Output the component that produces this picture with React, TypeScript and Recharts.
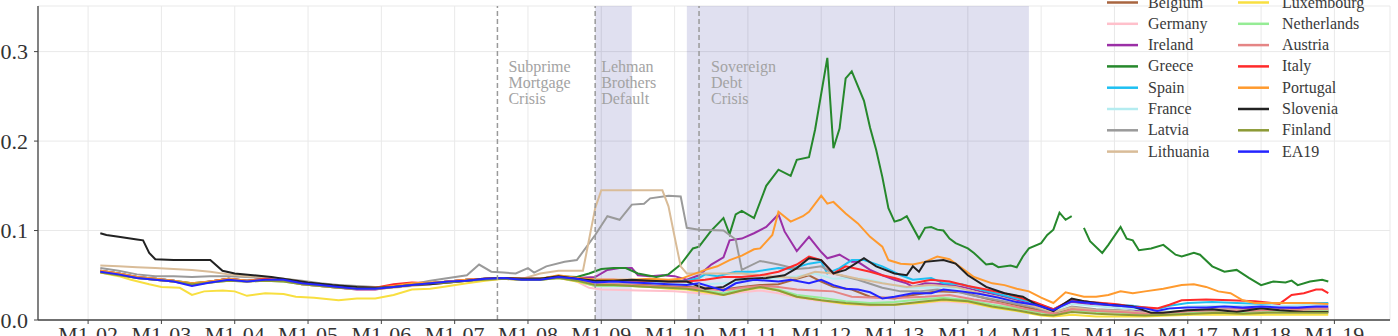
import React from 'react';
import { LineChart, Line, XAxis, YAxis, CartesianGrid, ReferenceArea, ReferenceLine } from 'recharts';

// month index 0 = January 2002
type Pt = [number, number | null];

const yearLabels = ['M1-02', 'M1-03', 'M1-04', 'M1-05', 'M1-06', 'M1-07', 'M1-08', 'M1-09', 'M1-10',
  'M1-11', 'M1-12', 'M1-13', 'M1-14', 'M1-15', 'M1-16', 'M1-17', 'M1-18', 'M1-19'];
const yearTicks = [0, 12, 24, 36, 48, 60, 72, 84, 96, 108, 120, 132, 144, 156, 168, 180, 192, 204];
const valueTicks = [0, 0.1, 0.2, 0.3];

const crisisBands: [number, number][] = [[83, 89], [98, 154]];
const crisisEvents = [
  { month: 67, lines: ['Subprime', 'Mortgage', 'Crisis'], dx: 11 },
  { month: 83, lines: ['Lehman', 'Brothers', 'Default'], dx: 6 },
  { month: 100, lines: ['Sovereign', 'Debt', 'Crisis'], dx: 12 },
];

const belgium: Pt[] = [[2,0.054],[5,0.051],[8,0.047],[11,0.045],[14,0.043],[17,0.040],[20,0.042],[23,0.045],[26,0.043],[29,0.045],[32,0.044],[35,0.040],[38,0.038],[41,0.036],[44,0.035],[47,0.035],[50,0.038],[53,0.040],[56,0.041],[59,0.043],[62,0.044],[65,0.046],[68,0.047],[71,0.045],[74,0.046],[77,0.048],[80,0.045],[83,0.040],[86,0.040],[89,0.040],[92,0.039],[95,0.038],[98,0.037],[101,0.036],[104,0.034],[107,0.037],[110,0.039],[113,0.040],[116,0.046],[118,0.050],[120,0.043],[122,0.037],[125,0.034],[128,0.026],[132,0.024],[135,0.028],[139,0.032],[143,0.031],[147,0.024],[151,0.018],[155,0.012],[158,0.007],[161,0.013],[165,0.011],[169,0.009],[173,0.007],[177,0.008],[181,0.010],[185,0.011],[189,0.010],[193,0.011],[197,0.011],[201,0.011],[203,0.011]];
const germany: Pt[] = [[2,0.053],[5,0.050],[8,0.047],[11,0.045],[14,0.043],[17,0.040],[20,0.042],[23,0.044],[26,0.043],[29,0.044],[32,0.043],[35,0.040],[38,0.038],[41,0.036],[44,0.034],[47,0.034],[50,0.037],[53,0.039],[56,0.040],[59,0.042],[62,0.044],[65,0.045],[68,0.046],[71,0.045],[74,0.045],[77,0.047],[80,0.043],[82,0.036],[84,0.034],[90,0.033],[96,0.032],[100,0.030],[104,0.028],[107,0.031],[110,0.033],[113,0.030],[116,0.025],[120,0.021],[124,0.018],[128,0.016],[132,0.017],[136,0.019],[140,0.021],[144,0.019],[148,0.015],[152,0.011],[156,0.007],[158,0.005],[161,0.010],[165,0.008],[169,0.007],[173,0.005],[177,0.006],[181,0.008],[185,0.009],[189,0.008],[193,0.009],[197,0.009],[201,0.009],[203,0.009]];
const ireland: Pt[] = [[2,0.055],[5,0.052],[8,0.048],[11,0.046],[14,0.044],[17,0.039],[20,0.043],[23,0.046],[26,0.044],[29,0.046],[32,0.045],[35,0.041],[38,0.039],[41,0.036],[44,0.034],[47,0.034],[50,0.037],[53,0.040],[56,0.041],[59,0.043],[62,0.045],[65,0.046],[68,0.047],[71,0.046],[74,0.046],[77,0.049],[80,0.047],[83,0.048],[85,0.056],[87,0.058],[89,0.058],[90,0.050],[92,0.049],[94,0.050],[96,0.049],[98,0.045],[100,0.050],[102,0.062],[104,0.070],[105,0.089],[107,0.091],[109,0.097],[111,0.104],[113,0.118],[114,0.099],[116,0.077],[118,0.093],[120,0.076],[121,0.069],[123,0.073],[125,0.065],[126,0.065],[128,0.056],[130,0.050],[132,0.045],[134,0.041],[135,0.037],[137,0.041],[140,0.040],[143,0.037],[146,0.032],[149,0.028],[152,0.022],[155,0.017],[158,0.010],[161,0.020],[164,0.017],[167,0.015],[170,0.013],[174,0.008],[176,0.007],[180,0.011],[184,0.012],[188,0.012],[192,0.013],[196,0.012],[200,0.013],[203,0.013]];
const greece: Pt[] = [[2,0.055],[5,0.052],[8,0.048],[11,0.046],[14,0.044],[17,0.041],[20,0.043],[23,0.046],[26,0.044],[29,0.046],[32,0.044],[35,0.041],[38,0.039],[41,0.037],[44,0.036],[47,0.036],[50,0.038],[53,0.040],[56,0.041],[59,0.043],[62,0.045],[65,0.046],[68,0.047],[71,0.046],[74,0.046],[77,0.049],[80,0.048],[82,0.052],[84,0.057],[86,0.058],[88,0.058],[90,0.052],[93,0.048],[95,0.051],[97,0.062],[99,0.080],[100,0.082],[102,0.100],[104,0.114],[105,0.096],[106,0.118],[107,0.122],[109,0.114],[111,0.150],[113,0.168],[115,0.161],[116,0.179],[118,0.182],[119,0.213],[121,0.293],[122,0.192],[123,0.214],[124,0.270],[125,0.278],[127,0.245],[128,0.215],[129,0.190],[130,0.160],[131,0.125],[132,0.110],[133,0.112],[134,0.116],[136,0.091],[137,0.103],[138,0.104],[139,0.101],[140,0.100],[141,0.091],[142,0.086],[144,0.080],[145,0.075],[147,0.062],[148,0.063],[149,0.059],[151,0.061],[152,0.059],[153,0.071],[154,0.080],[156,0.086],[157,0.095],[158,0.101],[159,0.120],[160,0.112],[161,0.116],[162,null],[163,0.103],[164,0.088],[166,0.075],[167,0.084],[169,0.104],[170,0.091],[171,0.089],[172,0.078],[174,0.080],[176,0.084],[178,0.073],[179,0.071],[181,0.075],[182,0.073],[184,0.060],[186,0.054],[188,0.056],[190,0.047],[192,0.039],[194,0.043],[196,0.042],[197,0.044],[198,0.039],[200,0.043],[202,0.045],[203,0.043]];
const spain: Pt[] = [[2,0.054],[5,0.051],[8,0.048],[11,0.046],[14,0.044],[17,0.040],[20,0.043],[23,0.045],[26,0.044],[29,0.045],[32,0.044],[35,0.041],[38,0.039],[41,0.037],[44,0.035],[47,0.035],[50,0.038],[53,0.040],[56,0.041],[59,0.043],[62,0.045],[65,0.046],[68,0.047],[71,0.046],[74,0.046],[77,0.048],[80,0.046],[83,0.043],[86,0.044],[89,0.044],[92,0.043],[95,0.043],[98,0.044],[100,0.047],[101,0.051],[103,0.049],[106,0.054],[109,0.054],[113,0.058],[115,0.057],[118,0.063],[120,0.065],[121,0.052],[123,0.058],[125,0.067],[127,0.067],[130,0.060],[133,0.050],[135,0.045],[138,0.047],[140,0.041],[143,0.040],[146,0.034],[149,0.029],[152,0.024],[155,0.019],[158,0.012],[161,0.022],[164,0.020],[167,0.018],[171,0.016],[175,0.012],[177,0.016],[180,0.019],[184,0.020],[188,0.019],[192,0.018],[196,0.019],[200,0.019],[203,0.019]];
const france: Pt[] = [[2,0.055],[5,0.052],[8,0.048],[11,0.046],[14,0.044],[17,0.040],[20,0.043],[23,0.045],[26,0.044],[29,0.045],[32,0.044],[35,0.041],[38,0.039],[41,0.037],[44,0.035],[47,0.035],[50,0.038],[53,0.040],[56,0.041],[59,0.043],[62,0.045],[65,0.046],[68,0.047],[71,0.046],[74,0.046],[77,0.048],[80,0.046],[83,0.042],[86,0.042],[89,0.042],[92,0.041],[95,0.040],[98,0.040],[101,0.040],[104,0.041],[107,0.043],[110,0.045],[113,0.047],[116,0.049],[119,0.052],[122,0.046],[125,0.047],[128,0.045],[131,0.040],[134,0.036],[137,0.036],[140,0.037],[143,0.035],[146,0.030],[149,0.025],[152,0.020],[155,0.016],[158,0.010],[161,0.018],[164,0.016],[168,0.014],[172,0.012],[176,0.011],[180,0.015],[184,0.016],[188,0.016],[192,0.016],[196,0.016],[200,0.017],[203,0.017]];
const latvia: Pt[] = [[2,0.058],[5,0.055],[8,0.051],[11,0.049],[14,0.049],[17,0.048],[20,0.049],[23,0.049],[26,0.048],[29,0.047],[32,0.046],[35,0.044],[38,0.041],[41,0.039],[44,0.038],[47,0.037],[50,0.037],[53,0.040],[56,0.044],[59,0.047],[62,0.050],[64,0.062],[66,0.054],[68,0.053],[70,0.052],[72,0.058],[73,0.053],[75,0.060],[78,0.065],[80,0.067],[83,0.095],[85,0.116],[87,0.112],[89,0.129],[91,0.130],[92,0.136],[95,0.139],[97,0.138],[98,0.103],[100,0.101],[104,0.100],[106,0.090],[107,0.056],[110,0.066],[113,0.062],[116,0.057],[118,0.058],[120,0.060],[122,0.052],[126,0.045],[130,0.036],[133,0.032],[136,0.032],[139,0.034],[142,0.032],[145,0.027],[149,0.022],[152,0.018],[155,0.014],[158,0.008],[161,0.015],[165,0.012],[169,0.011],[173,0.008],[177,0.007],[181,0.009],[185,0.010],[189,0.009],[193,0.010],[197,0.010],[201,0.010],[203,0.010]];
const lithuania: Pt[] = [[2,0.061],[5,0.060],[8,0.059],[11,0.058],[14,0.057],[17,0.056],[20,0.054],[23,0.051],[26,0.049],[29,0.048],[32,0.046],[35,0.043],[38,0.040],[41,0.038],[44,0.036],[47,0.035],[50,0.036],[53,0.038],[56,0.040],[59,0.042],[62,0.044],[65,0.046],[68,0.047],[71,0.046],[74,0.052],[77,0.055],[81,0.055],[82,0.090],[83,0.125],[84,0.145],[88,0.145],[94,0.145],[95,0.127],[96,0.093],[97,0.060],[98,0.052],[104,0.052],[107,0.052],[110,0.050],[113,0.048],[116,0.047],[119,0.054],[122,0.052],[126,0.046],[130,0.041],[134,0.037],[138,0.039],[142,0.037],[146,0.030],[150,0.024],[154,0.017],[158,0.009],[161,0.014],[165,0.011],[169,0.010],[173,0.008],[177,0.009],[181,0.011],[185,0.012],[189,0.011],[193,0.012],[197,0.011],[201,0.012],[203,0.012]];
const luxembourg: Pt[] = [[2,0.053],[5,0.049],[7,0.045],[10,0.040],[12,0.037],[15,0.036],[17,0.028],[19,0.032],[22,0.033],[24,0.032],[26,0.027],[29,0.030],[32,0.029],[34,0.026],[37,0.025],[41,0.022],[44,0.024],[47,0.024],[50,0.028],[53,0.034],[56,0.035],[58,0.037],[62,0.041],[65,0.044],[68,0.046],[71,0.045],[74,0.045],[77,0.047],[80,0.043],[83,0.038],[86,0.038],[89,0.038],[92,0.037],[95,0.035],[98,0.034],[101,0.031],[104,0.028],[107,0.033],[110,0.036],[113,0.033],[116,0.026],[120,0.022],[124,0.018],[128,0.017],[132,0.017],[136,0.019],[140,0.022],[144,0.020],[148,0.014],[152,0.010],[156,0.005],[158,0.004],[161,0.006],[165,0.004],[169,0.004],[173,0.004],[177,0.005],[181,0.006],[185,0.006],[189,0.006],[193,0.006],[197,0.006],[201,0.006],[203,0.006]];
const netherlands: Pt[] = [[2,0.054],[5,0.051],[8,0.047],[11,0.045],[14,0.043],[17,0.040],[20,0.042],[23,0.044],[26,0.043],[29,0.044],[32,0.043],[35,0.040],[38,0.038],[41,0.036],[44,0.035],[47,0.035],[50,0.038],[53,0.040],[56,0.041],[59,0.043],[62,0.044],[65,0.046],[68,0.047],[71,0.045],[74,0.045],[77,0.047],[80,0.044],[83,0.038],[86,0.038],[89,0.038],[92,0.037],[95,0.036],[98,0.035],[101,0.033],[104,0.030],[107,0.034],[110,0.037],[113,0.034],[116,0.028],[120,0.025],[124,0.021],[128,0.019],[132,0.020],[136,0.023],[140,0.025],[144,0.022],[148,0.017],[152,0.013],[156,0.008],[158,0.006],[161,0.011],[165,0.009],[169,0.008],[173,0.006],[177,0.007],[181,0.009],[185,0.010],[189,0.009],[193,0.010],[197,0.010],[201,0.010],[203,0.010]];
const austria: Pt[] = [[2,0.054],[5,0.051],[8,0.048],[11,0.045],[14,0.043],[17,0.040],[20,0.043],[23,0.045],[26,0.043],[29,0.045],[32,0.044],[35,0.040],[38,0.038],[41,0.036],[44,0.035],[47,0.035],[50,0.038],[53,0.040],[56,0.041],[59,0.043],[62,0.045],[65,0.046],[68,0.047],[71,0.046],[74,0.046],[77,0.048],[80,0.045],[83,0.040],[86,0.040],[89,0.039],[92,0.038],[95,0.037],[98,0.036],[101,0.035],[104,0.033],[107,0.036],[110,0.038],[113,0.037],[116,0.034],[119,0.033],[122,0.032],[125,0.026],[129,0.025],[133,0.025],[137,0.026],[141,0.028],[145,0.023],[149,0.019],[153,0.013],[157,0.008],[159,0.007],[161,0.012],[165,0.010],[169,0.009],[173,0.007],[177,0.008],[181,0.010],[185,0.011],[189,0.010],[193,0.011],[197,0.011],[201,0.012],[203,0.012]];
const italy: Pt[] = [[2,0.055],[5,0.052],[8,0.048],[11,0.046],[14,0.044],[17,0.040],[20,0.043],[23,0.046],[26,0.044],[29,0.046],[32,0.044],[35,0.041],[38,0.039],[41,0.037],[44,0.036],[47,0.036],[50,0.040],[53,0.042],[56,0.041],[59,0.043],[62,0.045],[65,0.046],[68,0.047],[71,0.046],[74,0.046],[77,0.049],[80,0.047],[83,0.045],[86,0.045],[89,0.044],[92,0.044],[95,0.043],[98,0.043],[101,0.045],[104,0.048],[107,0.048],[110,0.050],[113,0.054],[116,0.062],[118,0.071],[120,0.067],[122,0.052],[124,0.060],[126,0.057],[128,0.054],[130,0.050],[132,0.047],[135,0.041],[138,0.045],[141,0.043],[144,0.038],[147,0.034],[150,0.030],[153,0.024],[155,0.020],[158,0.012],[161,0.023],[164,0.020],[168,0.018],[171,0.015],[175,0.013],[177,0.017],[179,0.022],[183,0.023],[187,0.022],[191,0.021],[195,0.018],[197,0.028],[199,0.030],[201,0.034],[202,0.034],[203,0.030]];
const portugal: Pt[] = [[2,0.055],[5,0.052],[8,0.048],[11,0.046],[14,0.044],[17,0.041],[20,0.043],[23,0.046],[26,0.044],[29,0.045],[32,0.044],[35,0.041],[38,0.039],[41,0.037],[44,0.036],[47,0.036],[50,0.038],[53,0.041],[56,0.042],[59,0.043],[62,0.045],[65,0.046],[68,0.047],[71,0.046],[74,0.046],[77,0.050],[80,0.047],[83,0.045],[86,0.045],[89,0.045],[92,0.046],[95,0.045],[97,0.046],[99,0.051],[101,0.056],[103,0.060],[105,0.067],[107,0.072],[109,0.079],[110,0.080],[112,0.095],[113,0.121],[115,0.110],[117,0.116],[118,0.121],[120,0.139],[121,0.130],[122,0.132],[124,0.119],[126,0.108],[128,0.093],[130,0.082],[131,0.067],[133,0.063],[135,0.062],[137,0.065],[139,0.071],[141,0.068],[143,0.058],[145,0.048],[148,0.041],[150,0.039],[152,0.035],[154,0.032],[156,0.025],[158,0.019],[160,0.031],[163,0.026],[165,0.026],[167,0.028],[169,0.032],[171,0.030],[173,0.032],[176,0.035],[179,0.039],[181,0.040],[183,0.037],[185,0.032],[187,0.030],[189,0.022],[191,0.019],[194,0.019],[197,0.019],[200,0.019],[203,0.018]];
const slovenia: Pt[] = [[2,0.097],[3,0.095],[5,0.093],[8,0.090],[9,0.089],[10,0.075],[11,0.068],[14,0.067],[17,0.067],[20,0.067],[22,0.055],[24,0.052],[27,0.050],[30,0.048],[33,0.045],[36,0.042],[40,0.039],[44,0.037],[47,0.036],[50,0.037],[53,0.039],[56,0.040],[59,0.042],[62,0.044],[65,0.046],[68,0.047],[71,0.046],[74,0.046],[77,0.049],[80,0.046],[83,0.044],[86,0.044],[89,0.045],[92,0.044],[95,0.043],[98,0.043],[101,0.035],[104,0.037],[106,0.045],[108,0.046],[111,0.047],[114,0.050],[116,0.058],[118,0.069],[120,0.067],[122,0.052],[124,0.056],[127,0.069],[129,0.060],[132,0.052],[134,0.050],[135,0.060],[136,0.054],[137,0.065],[140,0.067],[142,0.063],[144,0.050],[147,0.037],[150,0.030],[153,0.026],[155,0.018],[158,0.010],[161,0.024],[163,0.021],[167,0.017],[171,0.015],[174,0.008],[176,0.008],[180,0.011],[184,0.012],[188,0.009],[192,0.013],[195,0.011],[199,0.009],[203,0.009]];
const finland: Pt[] = [[2,0.053],[5,0.050],[8,0.047],[11,0.045],[14,0.043],[17,0.040],[20,0.042],[23,0.044],[26,0.043],[29,0.044],[32,0.043],[35,0.040],[38,0.038],[41,0.036],[44,0.035],[47,0.035],[50,0.037],[53,0.039],[56,0.041],[59,0.042],[62,0.044],[65,0.045],[68,0.046],[71,0.045],[74,0.045],[77,0.047],[80,0.044],[83,0.039],[86,0.039],[89,0.038],[92,0.037],[95,0.036],[98,0.035],[101,0.032],[104,0.028],[107,0.033],[110,0.037],[113,0.033],[116,0.026],[120,0.022],[124,0.019],[128,0.017],[132,0.017],[136,0.020],[140,0.023],[144,0.021],[148,0.015],[152,0.011],[156,0.006],[158,0.005],[161,0.009],[165,0.007],[169,0.006],[173,0.005],[177,0.006],[181,0.007],[185,0.008],[189,0.007],[193,0.008],[197,0.008],[201,0.008],[203,0.008]];
const ea19: Pt[] = [[2,0.054],[5,0.051],[8,0.047],[11,0.045],[14,0.043],[17,0.038],[20,0.042],[23,0.045],[26,0.043],[29,0.045],[32,0.045],[35,0.041],[38,0.039],[41,0.037],[44,0.035],[47,0.035],[50,0.037],[53,0.039],[56,0.041],[59,0.043],[62,0.044],[65,0.046],[68,0.047],[71,0.045],[74,0.045],[77,0.048],[80,0.046],[83,0.042],[86,0.043],[89,0.042],[92,0.041],[95,0.040],[98,0.039],[100,0.041],[102,0.037],[104,0.033],[106,0.041],[109,0.045],[113,0.043],[115,0.045],[118,0.041],[120,0.045],[122,0.039],[124,0.035],[126,0.034],[128,0.031],[130,0.024],[132,0.026],[135,0.030],[138,0.030],[140,0.034],[143,0.032],[146,0.029],[149,0.025],[152,0.020],[155,0.017],[158,0.011],[161,0.021],[164,0.019],[167,0.017],[170,0.015],[173,0.013],[175,0.010],[177,0.013],[180,0.014],[183,0.014],[186,0.015],[189,0.014],[192,0.015],[195,0.014],[198,0.014],[201,0.015],[203,0.015]];

const series = [
  { name: 'Belgium', color: '#a8653f', points: belgium },
  { name: 'Germany', color: '#ffc0cb', points: germany },
  { name: 'Ireland', color: '#9b2fa6', points: ireland },
  { name: 'Greece', color: '#26882c', points: greece },
  { name: 'Spain', color: '#1ec0f2', points: spain },
  { name: 'France', color: '#b4ecf0', points: france },
  { name: 'Latvia', color: '#9a9a9a', points: latvia },
  { name: 'Lithuania', color: '#d9bc98', points: lithuania },
  { name: 'Luxembourg', color: '#f8df40', points: luxembourg },
  { name: 'Netherlands', color: '#95ec95', points: netherlands },
  { name: 'Austria', color: '#e58585', points: austria },
  { name: 'Italy', color: '#ff2a2a', points: italy },
  { name: 'Portugal', color: '#ff9a2e', points: portugal },
  { name: 'Slovenia', color: '#222222', points: slovenia },
  { name: 'Finland', color: '#8c9a36', points: finland },
  { name: 'EA19', color: '#2424ff', points: ea19 },
];

const SERIF = '"Liberation Serif", "DejaVu Serif", serif';
const W = 1398;
const H = 336;

const CrisisText = ({ viewBox, lines, dx }: any) => {
  if (!viewBox) return null;
  const baselines = [72, 88, 104];
  return (
    <g>
      {lines.map((t: string, i: number) => (
        <text key={t + i} x={viewBox.x + dx} y={baselines[i]} fill="#a3a3a3"
          fontFamily={SERIF} fontSize={16}>{t}</text>
      ))}
    </g>
  );
};

// legend drawn as an overlay, two columns filled top to bottom
const LegendOverlay = () => (
  <svg width={W} height={H} style={{ position: 'absolute', left: 0, top: 0, pointerEvents: 'none' }}>
    {series.map((s, i) => {
      const col = i < 8 ? 0 : 1;
      const row = i % 8;
      const y = 2.5 + row * 21.3;
      const x0 = col === 0 ? 1107 : 1238;
      const tx = col === 0 ? 1148 : 1282;
      return (
        <g key={s.name}>
          <line x1={x0} x2={x0 + 31} y1={y} y2={y} stroke={s.color} strokeWidth={2.5} />
          <text x={tx} y={y + 5} fontFamily={SERIF} fontSize={16} fill="#3a3a3a">{s.name}</text>
        </g>
      );
    })}
  </svg>
);

export default function App() {
  return (
    <div style={{ position: 'absolute', left: 0, top: 0, width: W, height: H, background: '#fff' }}>
      <LineChart width={W} height={H} margin={{ top: 6, right: 8, bottom: 0, left: 0 }}>
        <CartesianGrid stroke="#e9e9e9" strokeWidth={1} />
        <XAxis dataKey="m" type="number" domain={[-8.2, 213.1]} allowDataOverflow
          ticks={yearTicks} interval={0} height={16}
          tickFormatter={(m: number) => yearLabels[yearTicks.indexOf(m)] ?? ''}
          tick={{ fontFamily: SERIF, fontSize: 22, fill: '#333' }}
          tickSize={4} tickMargin={2}
          axisLine={{ stroke: '#444', strokeWidth: 1.3 }} tickLine={{ stroke: '#444' }} />
        <YAxis type="number" domain={[0, 0.351]} allowDataOverflow ticks={valueTicks} width={38}
          tickFormatter={(v: number) => v.toFixed(1)}
          tick={{ fontFamily: SERIF, fontSize: 22, fill: '#333' }}
          tickSize={4} tickMargin={6}
          axisLine={{ stroke: '#444', strokeWidth: 1.3 }} tickLine={{ stroke: '#444' }} />
        <YAxis yAxisId="frame" orientation="right" width={0} tick={false} tickLine={false}
          domain={[0, 1]} axisLine={{ stroke: '#555', strokeWidth: 1.3 }} />
        {crisisBands.map(([a, b]) => (
          <ReferenceArea key={a} x1={a} x2={b} fill="#000080" fillOpacity={0.12} stroke="none" />
        ))}
        {series.map(s => (
          <Line key={s.name} name={s.name} data={s.points.map(([m, v]) => ({ m, v }))} dataKey="v"
            stroke={s.color} strokeWidth={2} dot={false} activeDot={false}
            isAnimationActive={false} connectNulls={false} />
        ))}
        {crisisEvents.map(e => (
          <ReferenceLine key={e.month} x={e.month} stroke="#9a9a9a" strokeWidth={1.5}
            strokeDasharray="5 3"
            label={(p: any) => <CrisisText viewBox={p.viewBox} lines={e.lines} dx={e.dx} />} />
        ))}
      </LineChart>
      <LegendOverlay />
    </div>
  );
}
